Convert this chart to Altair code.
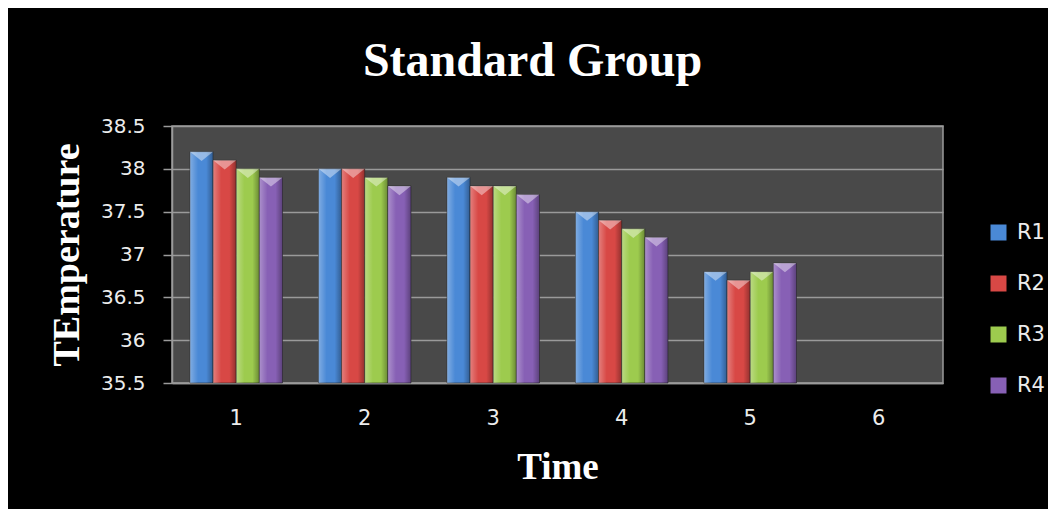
import altair as alt
import pandas as pd

times = ["1", "2", "3", "4", "5", "6"]
series = ["R1", "R2", "R3", "R4"]
r1 = [38.2, 38.0, 37.9, 37.5, 36.8]
r2 = [38.1, 38.0, 37.8, 37.4, 36.7]
r3 = [38.0, 37.9, 37.8, 37.3, 36.8]
r4 = [37.9, 37.8, 37.7, 37.2, 36.9]
colors = ["#4a89d6", "#d84845", "#9dcb4e", "#8760b5"]
y_ticks = [35.5, 36, 36.5, 37, 37.5, 38, 38.5]

rows = []
for s, vals in zip(series, [r1, r2, r3, r4]):
    for t, v in zip(times, vals):
        rows.append({"Time": t, "Series": s, "Temp": v})
df = pd.DataFrame(rows)

grid_col = "#9a9a9a"
txt_col = "#ececec"

base = alt.Chart(df).encode(
    x=alt.X(
        "Time:N",
        scale=alt.Scale(domain=times, paddingInner=0.28, paddingOuter=0.14),
        axis=alt.Axis(
            title="Time", labelAngle=0, ticks=False, grid=False,
            labelFont="DejaVu Sans", labelFontSize=21, labelColor=txt_col,
            labelPadding=24, domainColor=grid_col, domainWidth=1.5,
            titleFont="Liberation Serif", titleFontWeight="bold", titleFontSize=37,
            titleColor="white", titleX=385.5, titleY=95, titleBaseline="alphabetic",
            titleAlign="center",
        ),
    ),
    xOffset=alt.XOffset("Series:N", scale=alt.Scale(domain=series)),
    y=alt.Y(
        "Temp:Q",
        scale=alt.Scale(domain=[35.5, 38.5], zero=False, nice=False),
        axis=alt.Axis(
            title="TEmperature", values=y_ticks, format="~g",
            labelFont="DejaVu Sans", labelFontSize=20, labelColor=txt_col,
            labelPadding=18, tickSize=9, tickColor=grid_col, tickWidth=1.5,
            domainColor=grid_col, domainWidth=1.5,
            grid=True, gridColor=grid_col, gridWidth=1.5,
            titleFont="Liberation Serif", titleFontWeight="bold", titleFontSize=38,
            titleColor="white", titleAngle=270, titleX=-94, titleY=128.5,
            titleBaseline="alphabetic", titleAlign="center",
        ),
    ),
    y2=alt.datum(35.5),
)

bars = base.mark_bar(stroke="#2a2a2a", strokeWidth=0.6).encode(
    color=alt.Color(
        "Series:N",
        scale=alt.Scale(domain=series, range=colors),
        legend=alt.Legend(
            title=None, orient="none", legendX=816, legendY=96, padding=0,
            symbolType="square", symbolSize=256, symbolStrokeWidth=0,
            labelFont="DejaVu Sans", labelFontSize=21, labelColor=txt_col,
            labelOffset=8, rowPadding=29,
        ),
    )
)

shine = base.mark_bar(
    fill=alt.Gradient(
        gradient="linear",
        stops=[
            alt.GradientStop(color="rgba(255,255,255,0.3)", offset=0),
            alt.GradientStop(color="rgba(255,255,255,0)", offset=0.35),
            alt.GradientStop(color="rgba(0,0,0,0)", offset=0.7),
            alt.GradientStop(color="rgba(0,0,0,0.32)", offset=1),
        ],
        x1=0, x2=1, y1=0, y2=0,
    )
)

tops = base.mark_point(
    shape="M-1,0L1,0L0,0.8Z", size=529, filled=True, fill="white",
    opacity=0.42, strokeWidth=0,
)

chart = (
    alt.layer(bars, shine, tops)
    .properties(
        width=771, height=257,
        padding={"left": 164, "top": 118, "right": 105, "bottom": 126},
        autosize=alt.AutoSizeParams(type="none"),
        background="black",
        title=alt.TitleParams(
            "Standard Group", font="Liberation Serif", fontWeight="bold",
            fontSize=48, color="white", anchor="middle", baseline="alphabetic",
            offset=49, dx=-25, dy=57,
        ),
    )
    .configure_view(fill="#494949", stroke=grid_col, strokeWidth=1.5)
)

chart.save("out.html", embed_options={"renderer": "svg", "actions": False})
